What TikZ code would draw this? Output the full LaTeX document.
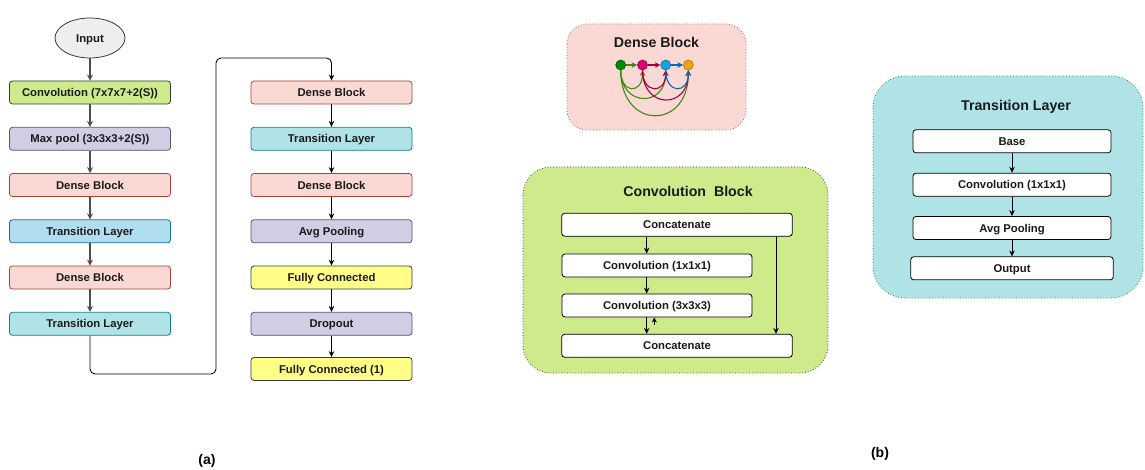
\documentclass[tikz,border=0pt]{standalone}
\usepackage{fontspec}
\setmainfont{Liberation Sans}
\usetikzlibrary{arrows.meta,shapes.geometric}

\definecolor{txt}{HTML}{1A1A1A}
\definecolor{bdark}{HTML}{36393D}
\definecolor{gfill}{HTML}{CDEB8B}
\definecolor{pfill}{HTML}{D0CEE2}\definecolor{pline}{HTML}{56517E}
\definecolor{rfill}{HTML}{FAD9D5}\definecolor{rline}{HTML}{AE4132}
\definecolor{bfill}{HTML}{B1DDF0}\definecolor{bline}{HTML}{10739E}
\definecolor{tfill}{HTML}{B0E3E6}\definecolor{tline}{HTML}{0E8088}
\definecolor{yfill}{HTML}{FFFF88}
\definecolor{efill}{HTML}{EEEEEE}
\definecolor{arrgray}{HTML}{4D4D4D}
\definecolor{dgreen}{HTML}{008A00}\definecolor{dgreenl}{HTML}{005700}
\definecolor{agreen}{HTML}{3D8A0F}
\definecolor{dmag}{HTML}{D80073}\definecolor{dmagl}{HTML}{A50040}
\definecolor{dblue}{HTML}{1BA1E2}\definecolor{dbluel}{HTML}{006EAF}
\definecolor{dorange}{HTML}{F0A30A}\definecolor{dorangel}{HTML}{BD7000}
\definecolor{panelred}{HTML}{B85450}

\tikzset{
  boxfont/.style={font=\fontsize{11.3}{13}\selectfont\bfseries, text=txt,
                  text height=8.1pt, text depth=0pt},
  flowbox/.style={draw, rounded corners=3pt, minimum width=161pt, minimum height=23pt,
                  inner sep=0pt, line width=0.8pt, boxfont},
  greenbox/.style={flowbox, fill=gfill, draw=bdark},
  purplebox/.style={flowbox, fill=pfill, draw=pline},
  redbox/.style={flowbox, fill=rfill, draw=rline},
  bluebox/.style={flowbox, fill=bfill, draw=bline},
  tealbox/.style={flowbox, fill=tfill, draw=tline},
  yellowbox/.style={flowbox, fill=yfill, draw=bdark},
  whitebox/.style={draw=black, fill=white, rounded corners=3pt, minimum height=23pt,
                   inner sep=0pt, line width=0.8pt, boxfont},
  panel/.style={rounded corners=26pt, line width=0.8pt, dotted},
  paneltitle/.style={font=\fontsize{14.2}{16}\selectfont\bfseries, text=txt,
                     text height=10.2pt, text depth=0pt},
  grayarrow/.style={draw=arrgray, line width=1.3pt, -{Stealth[length=6pt,width=6pt,inset=2pt]}},
  blackarrow/.style={draw=black, line width=0.9pt, -{Stealth[length=6pt,width=5.5pt,inset=2pt]}},
  dot/.style={circle, minimum size=10pt, inner sep=0pt, line width=0.6pt},
  dbarrow/.style={line width=1.1pt, -{Stealth[length=5.5pt,width=5.5pt,inset=1.5pt]}},
  sublabel/.style={font=\fontsize{14}{16}\selectfont\bfseries, text=black}
}

\begin{document}
\begin{tikzpicture}[x=1pt, y=-1pt]
\useasboundingbox (0,0) rectangle (1145,470);

% ---------- (a) network pipeline, first column ----------
\node[ellipse, draw=bdark, fill=efill, line width=0.8pt, minimum width=70pt,
      minimum height=40pt, inner sep=0pt, boxfont] (in) at (90,38) {Input};
\node[greenbox]  (conv) at (90,92.5)  {Convolution (7x7x7+2(S))};
\node[purplebox] (mp)   at (90,138.8) {Max pool (3x3x3+2(S))};
\node[redbox]    (db1)  at (90,185)   {Dense Block};
\node[bluebox]   (tl1)  at (90,231.3) {Transition Layer};
\node[redbox]    (db2)  at (90,277.5) {Dense Block};
\node[tealbox]   (tl2)  at (90,323.8) {Transition Layer};

\draw[grayarrow] (in) -- (conv);
\draw[grayarrow] (conv) -- (mp);
\draw[grayarrow] (mp) -- (db1);
\draw[grayarrow] (db1) -- (tl1);
\draw[grayarrow] (tl1) -- (db2);
\draw[grayarrow] (db2) -- (tl2);

% ---------- second column ----------
\node[redbox]    (db3) at (331.5,92.5)  {Dense Block};
\node[tealbox]   (tl3) at (331.5,138.8) {Transition Layer};
\node[redbox]    (db4) at (331.5,185)   {Dense Block};
\node[purplebox] (ap)  at (331.5,231.3) {Avg Pooling};
\node[yellowbox] (fc)  at (331.5,277.5) {Fully Connected};
\node[purplebox] (do)  at (331.5,323.8) {Dropout};
\node[yellowbox] (fc1) at (331.5,369)   {Fully Connected (1)};

\coordinate (turnA) at (216,374);
\coordinate (turnB) at (216,58);
\draw[blackarrow, rounded corners=5pt] (tl2.south) |- (turnA) -- (turnB) -| (db3.north);

\draw[blackarrow] (db3) -- (tl3);
\draw[blackarrow] (tl3) -- (db4);
\draw[blackarrow] (db4) -- (ap);
\draw[blackarrow] (ap) -- (fc);
\draw[blackarrow] (fc) -- (do);
\draw[blackarrow] (do) -- (fc1);

\node[sublabel] (la) at (207,461) {(a)};

% ---------- (b) Dense Block panel ----------
\draw[panel, draw=panelred, fill=rfill, rounded corners=20pt] (567,24) rectangle (746,130);
\node[paneltitle] (dbt) at (656.5,42) {Dense Block};

\node[dot, fill=dgreen, draw=dgreenl]   (n1) at (620.7,65) {};
\node[dot, fill=dmag, draw=dmagl]       (n2) at (642.5,65) {};
\node[dot, fill=dblue, draw=dbluel]     (n3) at (665.7,65) {};
\node[dot, fill=dorange, draw=dorangel] (n4) at (688.3,65) {};

\draw[dbarrow, draw=agreen] (n1) -- (n2);
\draw[dbarrow, draw=dmagl] (n2) -- (n3);
\draw[dbarrow, draw=dbluel] (n3) -- (n4);

\draw[dbarrow, draw=agreen] (n1.south) .. controls +(0,24) and +(0,24) .. (n2.south);
\draw[dbarrow, draw=agreen] (n1.south) .. controls +(0,37) and +(0,37) .. (n3.south);
\draw[dbarrow, draw=agreen] (n1.south) .. controls +(0,60) and +(0,60) .. (n4.south);
\draw[dbarrow, draw=dmagl] (n2.south) .. controls +(0,24) and +(0,24) .. (n3.south);
\draw[dbarrow, draw=dmagl] (n2.south) .. controls +(0,39) and +(0,39) .. (n4.south);
\draw[dbarrow, draw=dbluel] (n3.south) .. controls +(0,24) and +(0,24) .. (n4.south);

% ---------- (b) Convolution Block panel ----------
\draw[panel, draw=bdark, fill=gfill, rounded corners=28pt] (523,167) rectangle (828,373);
\node[paneltitle] (cbt) at (688,191) {Convolution~~Block};

\node[whitebox, minimum width=230.6pt] (ct) at (677,224.7) {Concatenate};
\node[whitebox, minimum width=190pt]   (c1) at (657,265.5) {Convolution (1x1x1)};
\node[whitebox, minimum width=190pt]   (c3) at (657,305.5) {Convolution (3x3x3)};
\node[whitebox, minimum width=230.6pt] (cb) at (677,345.8) {Concatenate};

\coordinate (xl) at (646.7,0);
\coordinate (xr) at (776,0);
\coordinate (up) at (654.3,324.5);
\draw[blackarrow] (ct.south -| xl) -- (c1.north -| xl);
\draw[blackarrow] (c1.south -| xl) -- (c3.north -| xl);
\draw[blackarrow] (c3.south -| xl) -- (cb.north -| xl);
\draw[blackarrow] (ct.south -| xr) -- (cb.north -| xr);
\draw[black, line width=0.9pt, -{Stealth[length=5pt,width=5pt,inset=1.5pt]}] (up) -- (c3.south -| up);

% ---------- (b) Transition Layer panel ----------
\draw[panel, draw=tline, fill=tfill, rounded corners=32pt] (873,76) rectangle (1143,298);
\node[paneltitle] (tlt) at (1016,105) {Transition Layer};

\node[whitebox, minimum width=198pt]   (tb)  at (1012,141.3) {Base};
\node[whitebox, minimum width=198pt]   (tc)  at (1012,184.7) {Convolution (1x1x1)};
\node[whitebox, minimum width=198pt]   (tap) at (1012,228)   {Avg Pooling};
\node[whitebox, minimum width=202.6pt] (to)  at (1012,268.3) {Output};

\draw[blackarrow] (tb) -- (tc);
\draw[blackarrow] (tc) -- (tap);
\draw[blackarrow] (tap) -- (to);

\node[sublabel] (lb) at (880,454) {(b)};
\end{tikzpicture}
\end{document}
